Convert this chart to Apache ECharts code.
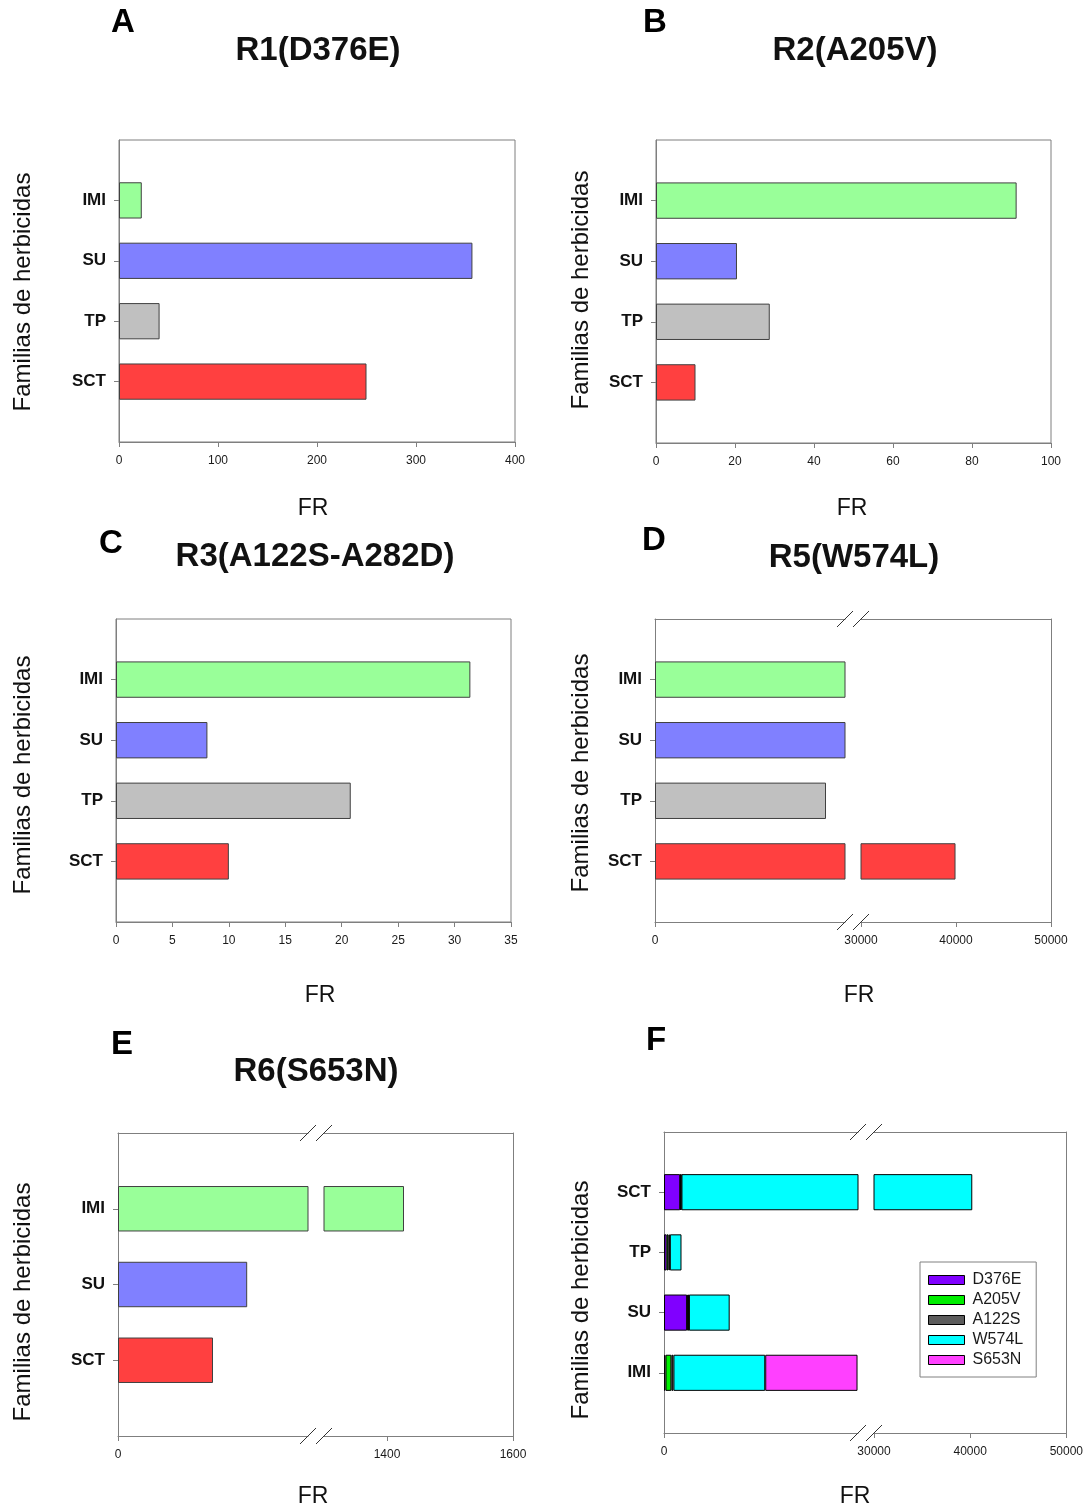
<!DOCTYPE html>
<html>
<head>
<meta charset="utf-8">
<script src="https://cdn.jsdelivr.net/npm/echarts@6/dist/echarts.min.js"></script>
<style>
  html, body { margin: 0; padding: 0; background: #fff; }
  #chart { width: 1086px; height: 1510px; }
</style>
</head>
<body>
<div id="chart"></div>
<script>
// ---- Data -------------------------------------------------------------
// Herbicide families, in the order they are listed on the y axes
const families = ['IMI', 'SU', 'TP', 'SCT'];
const familiesR6 = ['IMI', 'SU', 'SCT'];
const familiesStack = ['SCT', 'TP', 'SU', 'IMI'];

// Resistance factor (FR) per family, one list per resistant population (families order)
const frR1 = [23, 357, 41, 250];        // R1 (D376E)
const frR2 = [91.3, 20.5, 28.8, 10];    // R2 (A205V)
const frR3 = [31.4, 8.1, 20.8, 10];     // R3 (A122S-A282D)
const frR5 = [1420, 630, 180, 39950];   // R5 (W574L)
const frR6 = [1427, 102, 75];           // R6 (S653N), familiesR6 order

// Stacked summary (families order); S653N only contributes to IMI here
const mutations = ['D376E', 'A205V', 'A122S', 'W574L', 'S653N'];
const stackD376E = frR1;
const stackA205V = frR2;
const stackA122S = frR3;
const stackW574L = frR5;
const stackS653N = [1427, null, null, null];

// Axis ranges and tick labels
const ticksA = [0, 400, 100];
const ticksB = [0, 100, 20];
const ticksC = [0, 35, 5];
const rangesD = [[0, 200], [30000, 50000]];
const labelsD = [[0], [30000, 40000, 50000]];
const rangesE = [[0, 150], [1300, 1600]];
const labelsE = [[0], [1400, 1600]];
const rangesF = [[0, 3000], [30000, 50000]];
const labelsF = [[0], [30000, 40000, 50000]];

// ---- Styles -----------------------------------------------------------
const FONT = '"Liberation Sans", Arial, Helvetica, sans-serif';
const FRAME = '#7f7f7f';
const familyColors = { IMI: '#99ff99', SU: '#8080ff', TP: '#c0c0c0', SCT: '#ff4040' };
const mutationColors = { D376E: '#8000ff', A205V: '#00ee00', A122S: '#5c5c5c', W574L: '#00ffff', S653N: '#ff40ff' };

// ---- Panel layout (pixels) ---------------------------------------------
const panels = [
  { id: 'A', title: 'R1(D376E)', top: 140, height: 302, segs: [[119, 396]],
    letter: [123, 23], titlePos: [318, 51], frPos: [313, 509], yTitlePos: [23, 292] },
  { id: 'B', title: 'R2(A205V)', top: 140, height: 303, segs: [[656, 395]],
    letter: [655, 23], titlePos: [855, 51], frPos: [852, 509], yTitlePos: [581, 290] },
  { id: 'C', title: 'R3(A122S-A282D)', top: 619, height: 303, segs: [[116, 395]],
    letter: [111, 544], titlePos: [315, 557], frPos: [320, 996], yTitlePos: [23, 775] },
  { id: 'D', title: 'R5(W574L)', top: 619, height: 303, segs: [[655, 190], [861, 190]],
    letter: [654, 541], titlePos: [854, 558], frPos: [859, 996], yTitlePos: [581, 773] },
  { id: 'E', title: 'R6(S653N)', top: 1133, height: 303, segs: [[118, 190], [324, 189]],
    letter: [122, 1045], titlePos: [316, 1072], frPos: [313, 1497], yTitlePos: [23, 1302] },
  { id: 'F', title: '', top: 1132, height: 301, segs: [[664, 194], [874, 193]],
    letter: [656, 1041], titlePos: null, frPos: [855, 1497], yTitlePos: [581, 1300] }
];

const option = {
  animation: false,
  backgroundColor: '#fff',
  textStyle: { fontFamily: FONT },
  grid: [], xAxis: [], yAxis: [], series: [], graphic: [],
  legend: {
    orient: 'vertical', left: 920, top: 1262,
    data: mutations, icon: 'rect',
    itemWidth: 36, itemHeight: 9, itemGap: 4,
    padding: [10, 13, 9, 8],
    borderColor: '#808080', borderWidth: 1,
    itemStyle: { borderColor: '#000', borderWidth: 1 },
    textStyle: { fontFamily: FONT, fontSize: 16, color: '#1a1a1a', padding: [0, 0, 0, 3] }
  }
};

const padCats = cats => [''].concat(cats, [' ']);
const padVals = vals => ['-'].concat(vals.map(v => (v == null ? '-' : v)), ['-']);
const isBlank = v => String(v).trim() === '';
const plainNumber = v => String(v);

// Adds one plotting segment (grid + axes) and returns its axis indices
function addSegment(p, segIdx, cats, range, ticks, labelVals) {
  const [left, width] = p.segs[segIdx];
  const broken = p.segs.length > 1;
  const isFirst = segIdx === 0;
  const isLast = segIdx === p.segs.length - 1;
  const g = option.grid.length;
  option.grid.push({
    left, top: p.top, width, height: p.height,
    show: !broken, borderColor: FRAME, borderWidth: 1, backgroundColor: 'transparent'
  });

  const xBottom = {
    gridIndex: g, type: 'value', position: 'bottom',
    min: range[0], max: range[1],
    axisLine: { show: true, onZero: false, lineStyle: { color: FRAME, width: 1 } },
    axisTick: { show: true, length: 5, lineStyle: { color: FRAME } },
    axisLabel: { fontSize: 12, color: '#1a1a1a', margin: 13, fontFamily: FONT, formatter: plainNumber },
    splitLine: { show: false }
  };
  if (ticks) {
    xBottom.interval = ticks;
  } else {
    xBottom.axisLabel.customValues = labelVals;
    xBottom.axisTick.customValues = labelVals;
  }
  const xi = option.xAxis.length;
  option.xAxis.push(xBottom);
  if (broken) {
    // top frame line of this segment
    option.xAxis.push({
      gridIndex: g, type: 'value', position: 'top', min: 0, max: 1,
      axisLine: { show: true, onZero: false, lineStyle: { color: FRAME, width: 1 } },
      axisTick: { show: false }, axisLabel: { show: false }, splitLine: { show: false }
    });
  }

  const yi = option.yAxis.length;
  option.yAxis.push({
    gridIndex: g, type: 'category', data: padCats(cats), inverse: true, boundaryGap: false,
    position: isFirst ? 'left' : 'right',
    axisLine: { show: isFirst || (broken && isLast), onZero: false, lineStyle: { color: FRAME, width: 1 } },
    axisTick: { show: isFirst, length: 5, interval: (i, v) => !isBlank(v), lineStyle: { color: FRAME } },
    axisLabel: { show: isFirst, interval: 0, fontSize: 17, fontWeight: 'bold', color: '#111', margin: 13, fontFamily: FONT },
    splitLine: { show: false }
  });
  return { xi, yi };
}

function addBarPanel(p, cats, values, axisSpec) {
  p.segs.forEach((s, k) => {
    const { xi, yi } = addSegment(p, k, cats, axisSpec.ranges[k], axisSpec.ticks, axisSpec.labels && axisSpec.labels[k]);
    option.series.push({
      type: 'bar', xAxisIndex: xi, yAxisIndex: yi,
      data: padVals(values), barWidth: '60%', clip: true,
      itemStyle: { color: prm => familyColors[prm.name] || '#ccc', borderColor: '#404040', borderWidth: 1 }
    });
  });
}

function addStackPanel(p, cats, axisSpec) {
  const lists = { D376E: stackD376E, A205V: stackA205V, A122S: stackA122S, W574L: stackW574L, S653N: stackS653N };
  p.segs.forEach((s, k) => {
    const { xi, yi } = addSegment(p, k, cats, axisSpec.ranges[k], null, axisSpec.labels[k]);
    mutations.forEach(m => {
      const vals = cats.map(c => lists[m][families.indexOf(c)]);
      option.series.push({
        name: m, type: 'bar', xAxisIndex: xi, yAxisIndex: yi, stack: 'sum' + k,
        data: padVals(vals), barWidth: '60%', clip: true,
        itemStyle: { color: mutationColors[m], borderColor: '#000', borderWidth: 1 }
      });
    });
  });
}

function addTexts(p) {
  const G = option.graphic;
  G.push({ type: 'text', x: p.letter[0], y: p.letter[1], z: 50,
    style: { text: p.id, font: 'bold 33px ' + FONT, fill: '#000', align: 'center', verticalAlign: 'middle' } });
  if (p.titlePos) {
    G.push({ type: 'text', x: p.titlePos[0], y: p.titlePos[1], z: 50,
      style: { text: p.title, font: 'bold 33px ' + FONT, fill: '#111', align: 'center', verticalAlign: 'middle' } });
  }
  G.push({ type: 'text', x: p.frPos[0], y: p.frPos[1], z: 50,
    style: { text: 'FR', font: '23px ' + FONT, fill: '#111', align: 'center', verticalAlign: 'middle' } });
  G.push({ type: 'text', x: p.yTitlePos[0], y: p.yTitlePos[1], rotation: Math.PI / 2, z: 50,
    style: { text: 'Familias de herbicidas', font: '24px ' + FONT, fill: '#111', align: 'center', verticalAlign: 'middle' } });
  // break marks on the top and bottom frame lines
  if (p.segs.length > 1) {
    const edges = [p.segs[0][0] + p.segs[0][1], p.segs[1][0]];
    [p.top, p.top + p.height].forEach(yy => {
      edges.forEach(xx => {
        G.push({ type: 'line', z: 60,
          shape: { x1: xx - 8, y1: yy + 8, x2: xx + 8, y2: yy - 8 },
          style: { stroke: '#333', lineWidth: 1 } });
      });
    });
  }
}

addBarPanel(panels[0], families, frR1, { ranges: [[ticksA[0], ticksA[1]]], ticks: ticksA[2] });
addBarPanel(panels[1], families, frR2, { ranges: [[ticksB[0], ticksB[1]]], ticks: ticksB[2] });
addBarPanel(panels[2], families, frR3, { ranges: [[ticksC[0], ticksC[1]]], ticks: ticksC[2] });
addBarPanel(panels[3], families, frR5, { ranges: rangesD, ticks: null, labels: labelsD });
addBarPanel(panels[4], familiesR6, frR6, { ranges: rangesE, ticks: null, labels: labelsE });
addStackPanel(panels[5], familiesStack, { ranges: rangesF, labels: labelsF });
panels.forEach(addTexts);

const chart = echarts.init(document.getElementById('chart'), null, { renderer: 'canvas' });
chart.setOption(option);
</script>
</body>
</html>
